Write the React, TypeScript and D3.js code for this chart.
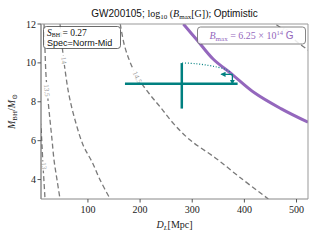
import React from 'react';
import * as d3 from 'd3';

const W = 320;
const H = 240;
const margin = { top: 24, right: 12, bottom: 41, left: 41 };

const xTicks = [100, 200, 300, 400, 500];
const yTicks = [4, 6, 8, 10, 12];

// contour lines of log10(B_max) as [D_L, M_BH]
const contourLevels = ['13', '13.5', '14', '14.5', '15'];
const contour13 = [[8, 7.05], [10, 6.64], [11.9, 5.77], [13.8, 4.74], [15.8, 3.87], [17.7, 3.0]];
const contour135 = [[15.8, 12], [17.7, 10.64], [19.6, 9.36], [23.5, 8.08], [27.3, 7.05], [31.2, 6.03], [35, 5.0], [40.8, 3.97], [46.5, 3.0]];
const contour14 = [[46.5, 12], [50.4, 10.9], [56.2, 9.62], [63.8, 8.33], [75.4, 7.05], [90.8, 5.77], [108, 4.9], [123.5, 3.97], [142.7, 3.0]];
const contour145 = [[162, 12], [170, 10.9], [181, 10.03], [195, 9.26], [218, 8.4], [239, 7.72], [265, 6.85], [296, 6.03], [345, 5.1], [393, 4.08], [446, 3.0]];
const contour15 = [[435, 12.38], [456, 12.05], [477, 11.67], [500, 11.1], [523.5, 10.64]];
const contourLines = [contour13, contour135, contour14, contour145, contour15];
const contourLabelPos = [[16.2, 4.7], [21.5, 8.59], [54.2, 10.13], [195, 9.26], [477, 11.67]];

// B_max = 6.25e14 G curve
const bmaxCurve = [[283, 12], [310, 11.15], [340, 10.2], [377, 9.4], [420, 8.45], [470, 7.65], [522, 6.95]];

// GW200105 estimate with error bars
const gwD = 280;
const gwDErr = [171, 387];
const gwM = 8.93;
const gwMErr = [7.65, 9.99];
const shiftPath = [[281, 10.0], [306, 9.96], [329, 9.88], [348.5, 9.78], [364, 9.67], [373.5, 9.51]];
const arrowD = [377, 356];
const arrowM = [9.41, 8.93];

const serif = '"Liberation Serif", "DejaVu Serif", serif';
const sans = '"Liberation Sans", Arial, sans-serif';
const teal = '#008080';
const purple = '#9467bd';

export default function App() {
  const x = d3.scaleLinear().domain([10, 522]).range([margin.left, W - margin.right]);
  const y = d3.scaleLinear().domain([3, 12]).range([H - margin.bottom, margin.top]);
  const line = d3.line<number[]>().x(d => x(d[0])).y(d => y(d[1])).curve(d3.curveCatmullRom);

  const labelAngle = (pts: number[][], pos: number[]) => {
    const px = pts.map(p => [x(p[0]), y(p[1])]);
    const lx = x(pos[0]), ly = y(pos[1]);
    let best = 0, bd = Infinity;
    for (let i = 0; i < px.length - 1; i++) {
      const mx = (px[i][0] + px[i + 1][0]) / 2, my = (px[i][1] + px[i + 1][1]) / 2;
      const d = (mx - lx) ** 2 + (my - ly) ** 2;
      if (d < bd) { bd = d; best = i; }
    }
    let a = Math.atan2(px[best + 1][1] - px[best][1], px[best + 1][0] - px[best][0]) * 180 / Math.PI;
    if (a > 90) a -= 180;
    if (a < -90) a += 180;
    return a;
  };

  const x0 = margin.left, x1 = W - margin.right, y0 = margin.top, y1 = H - margin.bottom;

  return (
    <svg width={W} height={H} style={{ position: 'absolute', left: 0, top: 0, background: '#fff' }}>
      <defs>
        <clipPath id="plot">
          <rect x={x0} y={y0} width={x1 - x0} height={y1 - y0} />
        </clipPath>
        <marker id="arr" viewBox="0 0 10 10" refX="8" refY="5" markerWidth="4" markerHeight="4" orient="auto">
          <path d="M0,0 L10,5 L0,10 z" fill={teal} />
        </marker>
      </defs>

      <text x={(x0 + x1) / 2} y={17} textAnchor="middle" fontSize={10} fill="#111">
        <tspan fontFamily={sans}>GW200105; </tspan>
        <tspan fontFamily={serif}>log</tspan>
        <tspan fontFamily={serif} fontSize={7} dy={2}>10</tspan>
        <tspan fontFamily={serif} dy={-2}> (</tspan>
        <tspan fontFamily={serif} fontStyle="italic">B</tspan>
        <tspan fontFamily={serif} fontSize={7} dy={2}>max</tspan>
        <tspan fontFamily={serif} dy={-2}>[G]); </tspan>
        <tspan fontFamily={sans}>Optimistic</tspan>
      </text>

      <g clipPath="url(#plot)">
        {contourLines.map((c, i) => (
          <path key={i} d={line(c) || ''} fill="none" stroke="#7a7a7a" strokeWidth={1.3} strokeDasharray="5,3" />
        ))}
        {contourLevels.map((lv, i) => {
          const p = contourLabelPos[i];
          const a = labelAngle(contourLines[i], p);
          const w = lv.length * 3.6 + 2;
          return (
            <g key={lv} transform={`translate(${x(p[0])},${y(p[1])}) rotate(${a})`}>
              <rect x={-w / 2} y={-3.5} width={w} height={7} fill="#fff" />
              <text textAnchor="middle" dy={2.5} fontSize={7} fontFamily={serif} fill="#999">{lv}</text>
            </g>
          );
        })}
        <path d={line(bmaxCurve) || ''} fill="none" stroke={purple} strokeWidth={3} />

        <path d={line(shiftPath) || ''} fill="none" stroke={teal} strokeWidth={1.2} strokeDasharray="1,1.8" />
        <line x1={x(gwDErr[0])} x2={x(gwDErr[1])} y1={y(gwM)} y2={y(gwM)} stroke={teal} strokeWidth={2.5} />
        <line x1={x(gwD)} x2={x(gwD)} y1={y(gwMErr[0])} y2={y(gwMErr[1])} stroke={teal} strokeWidth={2.5} />
        <line x1={x(arrowD[0])} x2={x(arrowD[1])} y1={y(arrowM[0])} y2={y(arrowM[0])} stroke={teal} strokeWidth={1.3} markerEnd="url(#arr)" />
        <line x1={x(arrowD[0])} x2={x(arrowD[0])} y1={y(arrowM[0])} y2={y(arrowM[1])} stroke={teal} strokeWidth={1.3} markerEnd="url(#arr)" />
      </g>

      {/* axes */}
      <line x1={x0} x2={x0} y1={y0} y2={y1} stroke="#555" />
      <line x1={x0} x2={x1} y1={y1} y2={y1} stroke="#888" />
      <line x1={x1} x2={x1} y1={y0} y2={y1} stroke="#999" />
      <line x1={x0} x2={x1} y1={y0} y2={y0} stroke="#999" />
      {xTicks.map(t => (
        <g key={t} transform={`translate(${x(t)},${y1})`}>
          <line y2={3.5} stroke="#555" />
          <text y={13.5} textAnchor="middle" fontSize={10} fontFamily={serif} fill="#222">{t}</text>
        </g>
      ))}
      {yTicks.map(t => (
        <g key={t} transform={`translate(${x0},${y(t)})`}>
          <line x2={-3.5} stroke="#555" />
          <text x={-5} dy={3.5} textAnchor="end" fontSize={10} fontFamily={serif} fill="#222">{t}</text>
        </g>
      ))}

      <text x={(x0 + x1) / 2} y={228} textAnchor="middle" fontSize={10} fontFamily={serif} fill="#222">
        <tspan fontStyle="italic">D</tspan>
        <tspan fontStyle="italic" fontSize={7} dy={2}>L</tspan>
        <tspan dy={-2}>[Mpc]</tspan>
      </text>
      <text transform={`translate(15,${(y0 + y1) / 2}) rotate(-90)`} textAnchor="middle" fontSize={10} fontFamily={serif} fill="#222">
        <tspan fontStyle="italic">M</tspan>
        <tspan fontSize={7} dy={2}>BH</tspan>
        <tspan dy={-2}>/</tspan>
        <tspan fontStyle="italic">M</tspan>
        <tspan fontSize={7} dy={2}>⊙</tspan>
      </text>

      {/* info boxes */}
      <rect x={43.5} y={26.5} width={77} height={22} rx={3} fill="#fff" fillOpacity={0.85} stroke="#444" strokeWidth={0.8} />
      <text x={47} y={35.5} fontSize={9.5} fontFamily={serif} fill="#111">
        <tspan fontStyle="italic">S</tspan>
        <tspan fontSize={6} dy={1.5}>BH</tspan>
        <tspan dy={-1.5}> = 0.27</tspan>
      </text>
      <text x={47} y={46} fontSize={9} fontFamily={sans} fill="#111">Spec=Norm-Mid</text>

      <rect x={197.5} y={27} width={108} height={17} rx={3} fill="#fff" fillOpacity={0.85} stroke="#666" strokeWidth={0.8} />
      <text x={251.5} y={39} textAnchor="middle" fontSize={10} fill={purple}>
        <tspan fontFamily={serif} fontStyle="italic">B</tspan>
        <tspan fontFamily={serif} fontSize={7} dy={2}>max</tspan>
        <tspan fontFamily={serif} dy={-2}> = 6.25 × 10</tspan>
        <tspan fontFamily={serif} fontSize={6.5} dy={-4}>14</tspan>
        <tspan fontFamily={sans} dy={4}> G</tspan>
      </text>
    </svg>
  );
}
